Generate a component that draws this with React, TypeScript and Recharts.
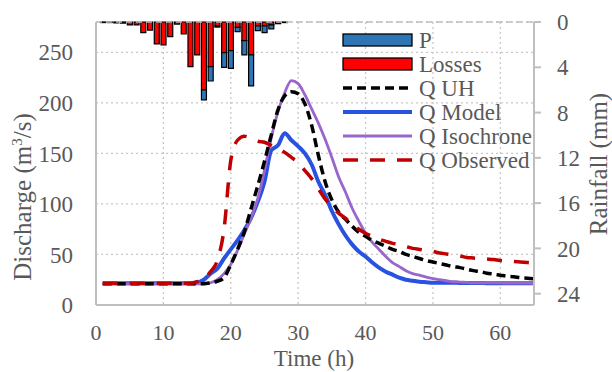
import React from 'react';
import { ComposedChart, Bar, Line, XAxis, YAxis, CartesianGrid, ReferenceLine, Label } from 'recharts';

const FONT = '"Liberation Serif", "Times New Roman", serif';
const TEXT = '#595959';
const AXIS = '#bfbfbf';

const hours = [
  1, 2, 3, 4, 5, 6, 7, 8, 9, 10, 11, 12, 13, 14, 15, 16, 17, 18, 19, 20,
  21, 22, 23, 24, 25, 26, 27, 28, 29, 30, 31, 32, 33, 34, 35, 36, 37, 38, 39, 40,
  41, 42, 43, 44, 45, 46, 47, 48, 49, 50, 51, 52, 53, 54, 55, 56, 57, 58, 59, 60,
  61, 62, 63, 64, 65,
];

// rainfall (mm), hours 1..28
const losses = [
  0.05, 0.05, 0.08, 0.1, 0.26, 0.26, 0.94, 0.71, 1.94, 2.03, 1.3, 0.18, 1.06, 3.94,
  2.91, 6.0, 3.94, 0.35, 2.71, 2.53, 0.47, 1.65, 2.91, 0.35, 0.35, 0.26, 0.1, 0.05,
];
const rainP = [
  0, 0, 0, 0, 0, 0, 0, 0, 0, 0, 0, 0, 0, 0,
  0, 0.88, 1.27, 0.1, 1.3, 1.56, 0.38, 1.26, 2.74, 0.41, 0.59, 0.35, 0.05, 0,
];

// discharge (m3/s)
const qUH = [
  21, 21, 21, 21, 21, 21, 21, 21, 21, 21, 21, 21, 21, 21, 21, 21, 22, 23.5, 27, 40,
  55, 72, 95, 118, 142, 168, 193, 207, 211, 209, 199, 178, 148, 122, 104, 92, 85, 78, 72, 68,
  64, 61, 58, 55, 53, 50, 48, 46, 44, 42.5, 41, 39.5, 38, 37, 35.5, 34, 33, 31.5, 30.5, 29.5,
  28.5, 28, 27, 26.5, 26,
];
const qModel = [
  21.5, 21.5, 21.5, 21.5, 21.5, 21.5, 21.5, 21.5, 21.5, 21.5, 21.5, 21.5, 21.5, 21.5, 22, 25, 31, 36, 46, 55,
  64, 74, 86, 102, 122, 153, 158, 170, 163, 157, 150, 139, 122, 109, 93, 80, 69, 60, 53, 48,
  42, 37, 33, 30, 27, 25, 24, 23, 22.5, 22, 22, 22, 22, 21.8, 21.8, 21.7, 21.7, 21.6, 21.6, 21.5,
  21.5, 21.5, 21.5, 21.5, 21.5,
];
const qIsochrone = [
  21, 21, 21, 21, 21, 21, 21, 21, 21, 21, 21, 21, 21, 21, 21, 21, 22, 25, 31, 40,
  54, 70, 86, 105, 133, 165, 191, 210, 222, 219, 208, 194, 180, 164, 146, 127, 112, 96, 83, 71,
  62, 55, 48, 42, 38, 34, 31, 29.5, 27.5, 26, 25, 24, 23, 22.7, 22.3, 22, 22, 22, 21.8, 21.8,
  21.7, 21.7, 21.6, 21.6, 21.5,
];
const qObserved = [
  21.5, 21.5, 21.5, 21.5, 21.5, 21.5, 21.5, 21.5, 21.5, 21.5, 21.5, 21.5, 21.5, 21.5, 23, 26, 33, 44, 75, 143,
  163, 167, 165, 162, 161, 158, 155, 151, 146, 141, 133, 125, 115, 105, 97, 91, 86, 80, 75, 71,
  68, 65, 63, 61, 60, 58, 56, 55, 54, 53, 51.5, 50.5, 49.5, 48.5, 47, 46.5, 46, 45.5, 45, 44,
  43.5, 43, 42.5, 42, 41.5,
];

const xTicks = [0, 10, 20, 30, 40, 50, 60];
const qTicks = [0, 50, 100, 150, 200, 250];
const rainTicks = [0, 4, 8, 12, 16, 20, 24];

const legendItems = [
  { name: 'P', kind: 'bar', color: '#2E75B6' },
  { name: 'Losses', kind: 'bar', color: '#FF0000' },
  { name: 'Q UH', kind: 'line', color: '#000000', dash: '9 5', width: 3.5 },
  { name: 'Q Model', kind: 'line', color: '#2A52E0', dash: undefined, width: 4 },
  { name: 'Q Isochrone', kind: 'line', color: '#9966CC', dash: undefined, width: 2.8 },
  { name: 'Q Observed', kind: 'line', color: '#C00000', dash: '15 12', width: 3.5 },
];

const data = hours.map((t, i) => ({
  t,
  losses: losses[i] ?? 0,
  p: rainP[i] ?? 0,
  uh: qUH[i],
  model: qModel[i],
  iso: qIsochrone[i],
  obs: qObserved[i],
}));

const TimeTitle = () => (
  <text x={314} y={366} textAnchor="middle" fill={TEXT} fontSize={23} fontFamily={FONT}>
    Time (h)
  </text>
);

const DischargeTitle = () => (
  <text transform="translate(31,197) rotate(-90)" textAnchor="middle" fill={TEXT} fontSize={25} fontFamily={FONT}>
    Discharge (m
    <tspan dy={-9} fontSize={15}>3</tspan>
    <tspan dy={9}>/s)</tspan>
  </text>
);

const RainTitle = () => (
  <text transform="translate(607,164) rotate(-90)" textAnchor="middle" fill={TEXT} fontSize={25} fontFamily={FONT}>
    Rainfall (mm)
  </text>
);

const ChartLegend = () => (
  <svg width={612} height={372} style={{ position: 'absolute', left: 0, top: 0, pointerEvents: 'none' }}>
    {legendItems.map((it, i) => {
      const cy = 40 + i * 24;
      return (
        <g key={it.name}>
          {it.kind === 'bar' ? (
            <rect x={343} y={cy - 6} width={69} height={12} fill={it.color} stroke="#000" strokeWidth={1.3} />
          ) : (
            <line x1={343} x2={412} y1={cy} y2={cy} stroke={it.color} strokeWidth={it.width} strokeDasharray={it.dash} />
          )}
          <text x={419} y={cy + 8} fill={TEXT} fontSize={23} fontFamily={FONT}>
            {it.name}
          </text>
        </g>
      );
    })}
  </svg>
);

export default function App() {
  return (
    <div style={{ position: 'absolute', left: 0, top: 0, width: 612, height: 372, background: '#fff' }}>
      <ComposedChart
        width={612}
        height={372}
        data={data}
        margin={{ top: 22, right: 0, bottom: 0, left: 0 }}
        style={{ fontFamily: FONT }}
      >
        <CartesianGrid yAxisId="q" stroke="#c8c8c8" strokeDasharray="2 3" strokeWidth={1.3} />
        <XAxis
          dataKey="t"
          type="number"
          domain={[0, 65]}
          ticks={xTicks}
          height={67}
          axisLine={{ stroke: AXIS, strokeWidth: 2 }}
          tickLine={false}
          tickSize={0}
          tickMargin={19}
          tick={{ fill: TEXT, fontSize: 22, fontFamily: FONT }}
        >
          <Label content={TimeTitle} />
        </XAxis>
        <YAxis
          yAxisId="q"
          orientation="left"
          domain={[0, 280]}
          ticks={qTicks}
          width={96}
          axisLine={{ stroke: AXIS, strokeWidth: 2 }}
          tickLine={false}
          tickSize={0}
          tickMargin={23}
          tick={{ fill: TEXT, fontSize: 23, fontFamily: FONT }}
        >
          <Label content={DischargeTitle} />
        </YAxis>
        <YAxis
          yAxisId="rain"
          orientation="right"
          reversed
          domain={[0, 25]}
          ticks={rainTicks}
          width={78}
          axisLine={{ stroke: AXIS, strokeWidth: 2 }}
          tickLine={{ stroke: AXIS, strokeWidth: 2 }}
          tickSize={7}
          tickMargin={16}
          tick={{ fill: TEXT, fontSize: 23, fontFamily: FONT, textAnchor: 'start' }}
        >
          <Label content={RainTitle} />
        </YAxis>
        <ReferenceLine yAxisId="q" y={280} stroke={AXIS} strokeWidth={1.5} strokeDasharray="6 4" />
        <Bar yAxisId="rain" dataKey="losses" stackId="rain" fill="#FF0000" stroke="#000" strokeWidth={1.2} barSize={5} isAnimationActive={false} />
        <Bar yAxisId="rain" dataKey="p" stackId="rain" fill="#2E75B6" stroke="#000" strokeWidth={1.2} barSize={5} isAnimationActive={false} />
        <Line yAxisId="q" type="monotone" dataKey="model" stroke="#2A52E0" strokeWidth={4} dot={false} isAnimationActive={false} />
        <Line yAxisId="q" type="monotone" dataKey="iso" stroke="#9966CC" strokeWidth={2.8} dot={false} isAnimationActive={false} />
        <Line yAxisId="q" type="monotone" dataKey="uh" stroke="#000" strokeWidth={3.5} strokeDasharray="9 5" dot={false} isAnimationActive={false} />
        <Line yAxisId="q" type="monotone" dataKey="obs" stroke="#C00000" strokeWidth={3.5} strokeDasharray="15 12" dot={false} isAnimationActive={false} />
      </ComposedChart>
      <ChartLegend />
    </div>
  );
}
